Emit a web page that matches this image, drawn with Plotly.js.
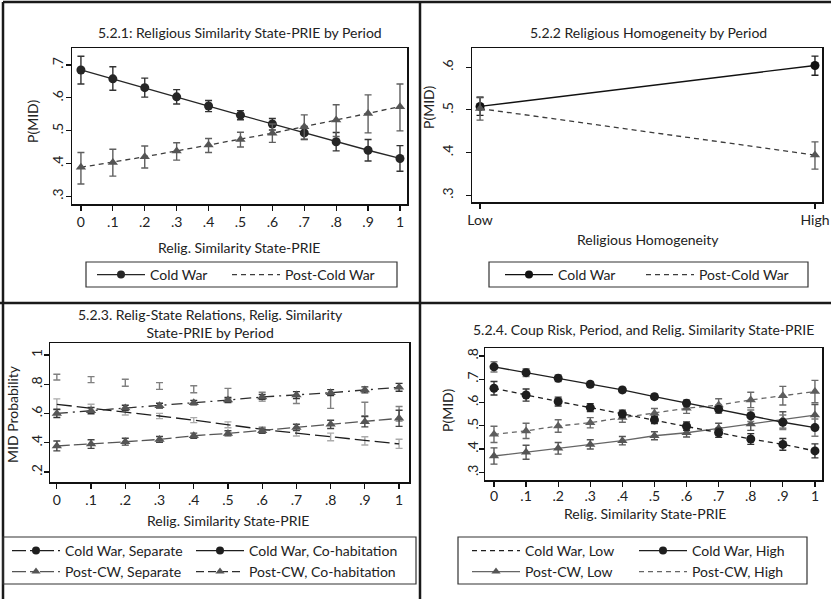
<!DOCTYPE html>
<html><head><meta charset="utf-8">
<script src="https://cdn.plot.ly/plotly-3.0.1.min.js"></script>
<style>html,body{margin:0;padding:0;background:#fff}#chart{width:831px;height:599px}</style>
</head><body><div id="chart"></div>
<script>
// ---------- shared ticks ----------
const simX = [0, 0.1, 0.2, 0.3, 0.4, 0.5, 0.6, 0.7, 0.8, 0.9, 1];
const simTickText = ['0', '.1', '.2', '.3', '.4', '.5', '.6', '.7', '.8', '.9', '1'];

// ---------- Panel 5.2.1 ----------
const p1Title = '5.2.1: Religious Similarity State-PRIE by Period';
const p1YTicks = [0.3, 0.4, 0.5, 0.6, 0.7];
const p1YText = ['.3', '.4', '.5', '.6', '.7'];
const p1Names = ['Cold War', 'Post-Cold War'];
const p1CW = [0.685, 0.658, 0.631, 0.603, 0.575, 0.547, 0.520, 0.493, 0.466, 0.440, 0.415];
const p1CWLo = [0.642, 0.623, 0.602, 0.581, 0.558, 0.533, 0.502, 0.473, 0.438, 0.407, 0.376];
const p1CWHi = [0.727, 0.695, 0.660, 0.625, 0.592, 0.561, 0.537, 0.513, 0.494, 0.473, 0.454];
const p1PCW = [0.388, 0.403, 0.420, 0.438, 0.456, 0.473, 0.492, 0.512, 0.532, 0.552, 0.573];
const p1PCWLo = [0.337, 0.361, 0.386, 0.410, 0.433, 0.450, 0.464, 0.474, 0.482, 0.493, 0.499];
const p1PCWHi = [0.433, 0.443, 0.453, 0.463, 0.476, 0.495, 0.520, 0.548, 0.579, 0.609, 0.642];

// ---------- Panel 5.2.2 ----------
const p2Title = '5.2.2 Religious Homogeneity by Period';
const p2Cats = ['Low', 'High'];
const p2YTicks = [0.3, 0.4, 0.5, 0.6];
const p2YText = ['.3', '.4', '.5', '.6'];
const p2Names = ['Cold War', 'Post-Cold War'];
const p2CW = [0.508, 0.604];
const p2CWLo = [0.487, 0.581];
const p2CWHi = [0.529, 0.626];
const p2PCW = [0.503, 0.394];
const p2PCWLo = [0.476, 0.361];
const p2PCWHi = [0.530, 0.425];

// ---------- Panel 5.2.3 ----------
const p3Title = '5.2.3. Relig-State Relations, Relig. Similarity<br>State-PRIE by Period';
const p3YTicks = [0.2, 0.4, 0.6, 0.8, 1];
const p3YText = ['.2', '.4', '.6', '.8', '1'];
const p3Names = ['Cold War, Separate', 'Cold War, Co-habitation', 'Post-CW, Separate', 'Post-CW, Co-habitation'];
const p3CWSep = [0.663, 0.638, 0.612, 0.583, 0.555, 0.523, 0.492, 0.466, 0.440, 0.413, 0.392];
const p3CWSepLo = [0.626, 0.613, 0.590, 0.565, 0.538, 0.503, 0.476, 0.446, 0.414, 0.385, 0.362];
const p3CWSepHi = [0.700, 0.663, 0.634, 0.601, 0.572, 0.543, 0.508, 0.486, 0.466, 0.441, 0.424];
const p3CWCoh = [0.848, 0.831, 0.810, 0.788, 0.766, 0.738, 0.715, 0.695, 0.683, 0.631, 0.598];
const p3CWCohLo = [0.829, 0.811, 0.786, 0.765, 0.742, 0.700, 0.685, 0.668, 0.635, 0.585, 0.548];
const p3CWCohHi = [0.868, 0.852, 0.834, 0.811, 0.790, 0.772, 0.745, 0.722, 0.731, 0.677, 0.648];
const p3PCWSep = [0.378, 0.391, 0.407, 0.423, 0.448, 0.464, 0.482, 0.505, 0.526, 0.544, 0.567];
const p3PCWSepLo = [0.345, 0.362, 0.384, 0.404, 0.431, 0.447, 0.465, 0.483, 0.498, 0.509, 0.512];
const p3PCWSepHi = [0.412, 0.421, 0.431, 0.443, 0.466, 0.482, 0.500, 0.527, 0.554, 0.579, 0.622];
const p3PCWCoh = [0.601, 0.619, 0.638, 0.653, 0.674, 0.692, 0.713, 0.726, 0.742, 0.761, 0.779];
const p3PCWCohLo = [0.573, 0.598, 0.620, 0.637, 0.659, 0.675, 0.697, 0.703, 0.722, 0.741, 0.752];
const p3PCWCohHi = [0.629, 0.641, 0.657, 0.670, 0.690, 0.710, 0.730, 0.750, 0.763, 0.782, 0.806];

// ---------- Panel 5.2.4 ----------
const p4Title = '5.2.4. Coup Risk, Period, and Relig. Similarity State-PRIE';
const p4YTicks = [0.3, 0.4, 0.5, 0.6, 0.7, 0.8];
const p4YText = ['.3', '.4', '.5', '.6', '.7', '.8'];
const p4Names = ['Cold War, Low', 'Cold War, High', 'Post-CW, Low', 'Post-CW, High'];
const p4CWHigh = [0.753, 0.728, 0.704, 0.678, 0.654, 0.625, 0.597, 0.571, 0.543, 0.515, 0.492];
const p4CWHighLo = [0.731, 0.711, 0.690, 0.666, 0.643, 0.614, 0.583, 0.553, 0.518, 0.484, 0.455];
const p4CWHighHi = [0.775, 0.745, 0.718, 0.690, 0.665, 0.636, 0.611, 0.589, 0.568, 0.546, 0.529];
const p4CWLow = [0.661, 0.632, 0.604, 0.578, 0.551, 0.525, 0.498, 0.470, 0.443, 0.420, 0.392];
const p4CWLowLo = [0.632, 0.606, 0.585, 0.561, 0.535, 0.509, 0.480, 0.450, 0.420, 0.395, 0.362];
const p4CWLowHi = [0.690, 0.658, 0.623, 0.595, 0.567, 0.541, 0.516, 0.490, 0.466, 0.445, 0.422];
const p4PCWHigh = [0.463, 0.478, 0.499, 0.513, 0.535, 0.554, 0.575, 0.589, 0.611, 0.629, 0.647];
const p4PCWHighLo = [0.428, 0.445, 0.472, 0.491, 0.515, 0.534, 0.553, 0.562, 0.578, 0.589, 0.599];
const p4PCWHighHi = [0.498, 0.511, 0.526, 0.535, 0.555, 0.574, 0.597, 0.616, 0.644, 0.669, 0.695];
const p4PCWLow = [0.370, 0.386, 0.403, 0.420, 0.436, 0.457, 0.470, 0.489, 0.508, 0.525, 0.546];
const p4PCWLowLo = [0.335, 0.356, 0.378, 0.400, 0.418, 0.440, 0.452, 0.467, 0.480, 0.490, 0.501];
const p4PCWLowHi = [0.405, 0.416, 0.428, 0.440, 0.454, 0.474, 0.488, 0.511, 0.536, 0.560, 0.591];

const xTitleSim = 'Relig. Similarity State-PRIE';

// ---------- helpers ----------
const W = 831, H = 599;
const FONT = 'Lato, "Open Sans", sans-serif';
const TXT = '#222';
const px = v => v / W;
const py = v => 1 - v / H;

function ci(y, lo, hi, color) {
  return {type: 'data', symmetric: false,
    array: hi.map((h, i) => h - y[i]), arrayminus: lo.map((l, i) => y[i] - l),
    color: color, thickness: 1.4, width: 3.5};
}
function series(xa, ya, x, y, lo, hi, o) {
  return {type: 'scatter', xaxis: xa, yaxis: ya, x: x, y: y, showlegend: false,
    mode: o.mode, line: {color: o.lc, width: o.lw || 1.3, dash: o.dash || 'solid'},
    marker: {symbol: o.sym || 'circle', size: o.ms || 9, color: o.mc || o.lc},
    error_y: ci(y, lo, hi, o.ec), hoverinfo: 'skip'};
}
function legendItem(name, legendId, o) {
  return {type: 'scatter', x: [null], y: [null], xaxis: 'x', yaxis: 'y', name: name,
    legend: legendId, showlegend: true, mode: o.mode,
    line: {color: o.lc, width: o.lw || 1.3, dash: o.dash || 'solid'},
    marker: {symbol: o.sym || 'circle', size: o.ms || 8, color: o.mc || o.lc}};
}

const CWc = '#262626', PCWc = '#555555';
const SHORT = '5px,4px';
const traces = [];

// Panel 1
const s1cw = {mode: 'lines+markers', lc: CWc, ec: '#333'};
const s1pcw = {mode: 'lines+markers', lc: '#3c3c3c', mc: PCWc, sym: 'triangle-up', dash: SHORT, ec: '#5f5f5f'};
traces.push(series('x', 'y', simX, p1CW, p1CWLo, p1CWHi, s1cw));
traces.push(series('x', 'y', simX, p1PCW, p1PCWLo, p1PCWHi, s1pcw));
// Panel 2
const s2cw = {mode: 'lines+markers', lc: '#111', ec: '#222'};
const s2pcw = {mode: 'lines+markers', lc: '#3c3c3c', mc: PCWc, sym: 'triangle-up', dash: SHORT, ec: '#5f5f5f'};
traces.push(series('x2', 'y2', p2Cats, p2CW, p2CWLo, p2CWHi, s2cw));
traces.push(series('x2', 'y2', p2Cats, p2PCW, p2PCWLo, p2PCWHi, s2pcw));
// Panel 3
const s3cwSep = {mode: 'lines', lc: '#1e1e1e', dash: '15px,5px', ec: '#ababab'};
const s3cwCoh = {mode: 'markers', lc: '#777', mc: 'rgba(0,0,0,0)', ms: 2, ec: '#808080'};
const s3pcwSep = {mode: 'lines+markers', lc: '#555', mc: PCWc, sym: 'triangle-up', dash: '13px,4px', ec: '#444'};
const s3pcwCoh = {mode: 'lines+markers', lc: '#2e2e2e', mc: PCWc, sym: 'triangle-up', dash: '11px,5px,2px,5px', ec: '#333'};
traces.push(series('x3', 'y3', simX, p3CWCoh, p3CWCohLo, p3CWCohHi, s3cwCoh));
traces.push(series('x3', 'y3', simX, p3CWSep, p3CWSepLo, p3CWSepHi, s3cwSep));
traces.push(series('x3', 'y3', simX, p3PCWSep, p3PCWSepLo, p3PCWSepHi, s3pcwSep));
traces.push(series('x3', 'y3', simX, p3PCWCoh, p3PCWCohLo, p3PCWCohHi, s3pcwCoh));
// Panel 4
const s4cwLow = {mode: 'lines+markers', lc: '#1e1e1e', dash: SHORT, ec: '#333'};
const s4cwHigh = {mode: 'lines+markers', lc: '#1e1e1e', ec: '#7a7a7a'};
const s4pcwLow = {mode: 'lines+markers', lc: '#666', mc: PCWc, sym: 'triangle-up', ec: '#555'};
const s4pcwHigh = {mode: 'lines+markers', lc: '#666', mc: '#5d5d5d', sym: 'triangle-up', dash: SHORT, ec: '#6a6a6a'};
traces.push(series('x4', 'y4', simX, p4PCWLow, p4PCWLowLo, p4PCWLowHi, s4pcwLow));
traces.push(series('x4', 'y4', simX, p4PCWHigh, p4PCWHighLo, p4PCWHighHi, s4pcwHigh));
traces.push(series('x4', 'y4', simX, p4CWLow, p4CWLowLo, p4CWLowHi, s4cwLow));
traces.push(series('x4', 'y4', simX, p4CWHigh, p4CWHighLo, p4CWHighHi, s4cwHigh));

// ---------- legends (one per entry for exact placement) ----------
const legendDefs = [
  // [name, style, xpx, ypx]
  [p1Names[0], {mode: 'lines+markers', lc: CWc}, 92, 275],
  [p1Names[1], {mode: 'lines', lc: '#3c3c3c', dash: SHORT}, 227, 275],
  [p2Names[0], {mode: 'lines+markers', lc: '#111'}, 500, 275],
  [p2Names[1], {mode: 'lines', lc: '#3c3c3c', dash: SHORT}, 641, 275],
  [p3Names[0], {mode: 'lines+markers', lc: '#1e1e1e', dash: '14px,4px,6px,4px'}, 7, 551],
  [p3Names[1], {mode: 'lines+markers', lc: '#1e1e1e'}, 191, 551],
  [p3Names[2], {mode: 'lines+markers', lc: '#555', mc: PCWc, sym: 'triangle-up', dash: '14px,4px,6px,4px'}, 7, 572],
  [p3Names[3], {mode: 'lines+markers', lc: '#2e2e2e', mc: PCWc, sym: 'triangle-up', dash: '8px,4px'}, 191, 572],
  [p4Names[0], {mode: 'lines', lc: '#1e1e1e', dash: SHORT}, 467, 551],
  [p4Names[1], {mode: 'lines+markers', lc: '#1e1e1e'}, 634, 551],
  [p4Names[2], {mode: 'lines+markers', lc: '#666', mc: PCWc, sym: 'triangle-up'}, 467, 572],
  [p4Names[3], {mode: 'lines', lc: '#666', dash: SHORT}, 634, 572]
];
const layoutLegends = {};
legendDefs.forEach((d, i) => {
  const id = i === 0 ? 'legend' : 'legend' + (i + 1);
  traces.push(legendItem(d[0], id, d[1]));
  layoutLegends[id] = {x: px(d[2]), y: py(d[3]), xanchor: 'left', yanchor: 'middle',
    orientation: 'h', bgcolor: 'rgba(0,0,0,0)', borderwidth: 0, itemwidth: 48,
    font: {family: FONT, size: 14, color: TXT}, itemclick: false, itemdoubleclick: false};
});

// ---------- axes ----------
function xax(domain, range, tickvals, ticktext, type) {
  const a = {domain: domain, range: range, showgrid: false, zeroline: false,
    showline: true, mirror: true, linecolor: '#111', linewidth: 1.5,
    ticks: 'outside', ticklen: 5, tickwidth: 1.2, tickcolor: '#111',
    tickfont: {family: FONT, size: 14, color: TXT}, fixedrange: true};
  if (type) a.type = type;
  if (tickvals) { a.tickmode = 'array'; a.tickvals = tickvals; a.ticktext = ticktext; }
  return a;
}
function yax(domain, range, tickvals, ticktext, standoff) {
  const a = xax(domain, range, tickvals, ticktext);
  a.tickangle = -90;
  a.ticklabelstandoff = standoff;
  return a;
}

const layout = Object.assign({
  width: W, height: H, margin: {l: 0, r: 0, t: 0, b: 0},
  paper_bgcolor: '#fff', plot_bgcolor: '#fff',
  font: {family: FONT, size: 14, color: TXT},
  xaxis: Object.assign(xax([px(72), px(407)], [-0.028, 1.022], simX, simTickText), {anchor: 'y'}),
  yaxis: Object.assign(yax([py(204), py(48)], [0.276, 0.752], p1YTicks, p1YText, -3), {anchor: 'x'}),
  xaxis2: Object.assign(xax([px(472), px(822)], [-0.024, 1.021], null, null, 'category'), {anchor: 'y2'}),
  yaxis2: Object.assign(yax([py(202), py(48)], [0.284, 0.645], p2YTicks, p2YText, 7), {anchor: 'x2'}),
  xaxis3: Object.assign(xax([px(50), px(409)], [-0.02, 1.029], simX, simTickText), {anchor: 'y3'}),
  yaxis3: Object.assign(yax([py(482), py(343)], [0.132, 1.082], p3YTicks, p3YText, -4), {anchor: 'x3'}),
  xaxis4: Object.assign(xax([px(485), px(822)], [-0.028, 1.022], simX, simTickText), {anchor: 'y4', ticklabelstandoff: -2}),
  yaxis4: Object.assign(yax([py(480), py(348)], [0.267, 0.834], p4YTicks, p4YText, -5), {anchor: 'x4'}),
  annotations: [
    {text: p1Title, x: px(240), y: py(32)},
    {text: p2Title, x: px(648), y: py(32)},
    {text: p3Title, x: px(210), y: py(324)},
    {text: p4Title, x: px(643), y: py(329)},
    {text: xTitleSim, x: px(239), y: py(247)},
    {text: 'Religious Homogeneity', x: px(648), y: py(240)},
    {text: xTitleSim, x: px(228), y: py(520)},
    {text: xTitleSim, x: px(645), y: py(513)},
    {text: 'P(MID)', x: px(33), y: py(122), textangle: -90},
    {text: 'P(MID)', x: px(429), y: py(108), textangle: -90},
    {text: 'MID Probability', x: px(12), y: py(414), textangle: -90},
    {text: 'P(MID)', x: px(447), y: py(411), textangle: -90}
  ].map(a => Object.assign({xref: 'paper', yref: 'paper', showarrow: false,
    xanchor: 'center', yanchor: 'middle', font: {family: FONT, size: 14, color: TXT}}, a)),
  shapes: [
    // panel frame lines
    {x0: px(3), x1: 1, y0: py(2), y1: py(2)},
    {x0: px(3), x1: px(3), y0: py(2), y1: 0},
    {x0: px(420), x1: px(420), y0: py(2), y1: 0},
    {x0: 0, x1: 1, y0: py(303), y1: py(303)},
  ].map(s => Object.assign({type: 'line', xref: 'paper', yref: 'paper', line: {color: '#1a1a1a', width: 2.5}}, s)).concat([
    // legend boxes
    {x0: px(86), x1: px(397), y0: py(262), y1: py(287)},
    {x0: px(489), x1: px(808), y0: py(262), y1: py(287)},
    {x0: px(3), x1: px(416), y0: py(537), y1: py(584)},
    {x0: px(458), x1: px(807), y0: py(537), y1: py(584)}
  ].map(s => Object.assign({type: 'rect', xref: 'paper', yref: 'paper', line: {color: '#333', width: 1.2}, fillcolor: 'rgba(0,0,0,0)'}, s)))
}, layoutLegends);

Plotly.newPlot('chart', traces, layout, {displayModeBar: false, staticPlot: true});
</script>
</body></html>
